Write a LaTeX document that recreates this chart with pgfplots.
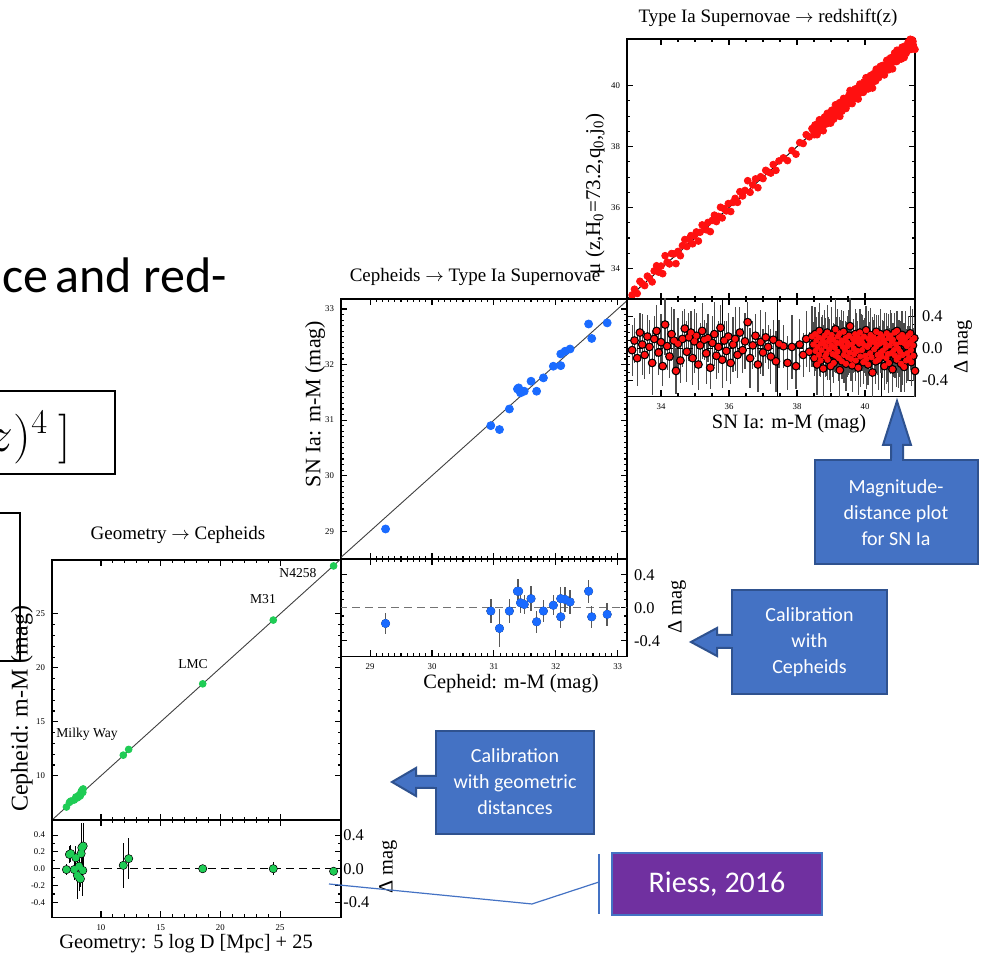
\documentclass[border=0pt]{standalone}
\usepackage{pgfplots}
\pgfplotsset{compat=1.18}
\usepackage{pgfplotstable}
\usepackage{fontspec}
\setmainfont{Liberation Serif}
\newfontfamily\slidefont{Carlito}

\definecolor{boxblue}{HTML}{4472C4}
\definecolor{boxedge}{HTML}{2F528F}
\definecolor{rpurple}{HTML}{7030A0}
\definecolor{snred}{HTML}{FF1010}
\definecolor{cepblue}{HTML}{1A6BFF}
\definecolor{geogreen}{HTML}{1FCC55}

% Geometric anchors: distance modulus x, Cepheid modulus y, residual r, error e
\pgfplotstableread{
x y r e
7.11 7.10 -0.01 0.07
7.36 7.53 0.17 0.10
7.47 7.65 0.18 0.10
7.76 7.75 -0.01 0.12
7.90 8.03 0.13 0.14
8.03 7.95 -0.08 0.28
8.17 8.20 0.03 0.20
8.20 8.09 -0.11 0.15
8.28 8.16 -0.12 0.10
8.34 8.52 0.18 0.25
8.40 8.65 0.25 0.30
8.51 8.78 0.27 0.28
8.48 8.46 -0.02 0.30
11.87 11.91 0.04 0.27
12.32 12.44 0.12 0.24
18.52 18.52 0.00 0.04
24.43 24.43 0.00 0.08
29.48 29.45 -0.03 0.04
}\geotab

% Cepheid hosts: Cepheid modulus x, SN Ia modulus y, residual r, error e
\pgfplotstableread{
x y r e
29.25 29.04 -0.19 0.13
30.95 30.90 -0.04 0.14
31.09 30.83 -0.25 0.23
31.25 31.20 -0.04 0.14
31.38 31.56 0.20 0.15
31.40 31.58 0.20 0.15
31.43 31.49 0.06 0.12
31.49 31.52 0.04 0.12
31.60 31.70 0.11 0.15
31.69 31.52 -0.17 0.13
31.80 31.76 -0.04 0.13
31.96 31.97 0.03 0.12
32.08 31.98 -0.11 0.14
32.08 32.19 0.11 0.14
32.15 32.24 0.10 0.15
32.23 32.28 0.07 0.14
32.53 32.73 0.20 0.14
32.58 32.47 -0.11 0.13
32.83 32.75 -0.08 0.14
}\cephtab

% Hubble-flow SN Ia: modulus x, residual r, error e
\pgfplotstableread[row sep=\\]{
x r e\\
33.15 -0.02 0.32\\ 33.22 0.10 0.28\\ 33.30 -0.12 0.35\\ 33.38 0.20 0.25\\ 33.45 0.05 0.38\\
33.52 -0.08 0.30\\ 33.60 0.15 0.27\\ 33.66 0.02 0.34\\ 33.74 -0.18 0.40\\ 33.80 0.12 0.29\\
33.87 0.22 0.32\\ 33.93 -0.05 0.28\\ 34.00 0.08 0.35\\ 34.05 -0.22 0.25\\ 34.12 0.30 0.38\\
34.18 0.03 0.30\\ 34.25 -0.10 0.27\\ 34.31 0.18 0.34\\ 34.38 0.10 0.40\\ 34.44 -0.28 0.29\\
34.50 0.06 0.32\\ 34.57 -0.15 0.28\\ 34.63 0.12 0.35\\ 34.70 0.25 0.25\\ 34.76 -0.04 0.38\\
34.82 0.14 0.30\\ 34.88 0.20 0.27\\ 34.93 -0.12 0.34\\ 34.98 0.09 0.40\\ 35.04 0.16 0.29\\
35.10 -0.20 0.32\\ 35.15 0.04 0.28\\ 35.21 0.22 0.35\\ 35.27 0.11 0.25\\ 35.33 -0.06 0.38\\
35.38 0.13 0.30\\ 35.45 -0.24 0.27\\ 35.51 0.07 0.34\\ 35.57 0.18 0.40\\ 35.63 -0.09 0.29\\
35.69 0.02 0.32\\ 35.75 0.26 0.28\\ 35.80 -0.14 0.35\\ 35.86 0.10 0.25\\ 35.92 -0.03 0.38\\
35.98 0.15 0.30\\ 36.05 -0.18 0.27\\ 36.12 0.05 0.34\\ 36.18 0.12 0.40\\ 36.25 -0.08 0.29\\
36.32 0.20 0.32\\ 36.40 -0.02 0.28\\ 36.47 0.09 0.35\\ 36.55 0.33 0.25\\ 36.62 -0.12 0.38\\
36.70 0.04 0.30\\ 36.78 0.16 0.27\\ 36.85 -0.20 0.34\\ 36.93 0.08 0.40\\ 37.00 -0.05 0.29\\
37.08 0.14 0.32\\ 37.15 0.02 0.28\\ 37.23 -0.10 0.35\\ 37.30 0.11 0.25\\ 37.38 -0.16 0.38\\
37.47 0.06 0.30\\ 37.60 0.03 0.27\\ 37.72 -0.18 0.34\\ 37.85 0.02 0.40\\ 37.97 -0.22 0.29\\
38.08 0.05 0.32\\ 38.18 -0.08 0.28\\ 38.27 0.12 0.35\\ 38.36 -0.04 0.25\\ 38.44 0.15 0.38\\
38.48 0.05 0.28\\ 38.51 -0.12 0.22\\ 38.53 0.18 0.34\\ 38.54 -0.03 0.25\\ 38.57 0.10 0.30\\
38.59 -0.20 0.38\\ 38.60 0.02 0.22\\ 38.63 0.14 0.32\\ 38.65 -0.08 0.26\\ 38.66 0.22 0.35\\
38.69 -0.15 0.21\\ 38.71 0.06 0.34\\ 38.72 -0.02 0.25\\ 38.75 0.12 0.30\\ 38.77 -0.25 0.38\\
38.78 0.08 0.22\\ 38.81 0.16 0.32\\ 38.83 -0.10 0.26\\ 38.84 0.03 0.35\\ 38.87 -0.06 0.28\\
38.89 0.20 0.34\\ 38.90 -0.14 0.25\\ 38.93 0.09 0.30\\ 38.95 -0.01 0.38\\ 38.96 0.13 0.22\\
38.99 -0.22 0.32\\ 39.01 0.04 0.26\\ 39.02 0.17 0.35\\ 39.05 -0.07 0.28\\ 39.07 0.11 0.21\\
39.08 -0.18 0.25\\ 39.11 0.01 0.30\\ 39.13 0.24 0.38\\ 39.14 -0.09 0.22\\ 39.17 0.07 0.32\\
39.19 -0.04 0.26\\ 39.20 0.15 0.35\\ 39.23 -0.12 0.28\\ 39.25 0.19 0.21\\ 39.26 -0.27 0.34\\
39.29 0.06 0.30\\ 39.31 0.10 0.38\\ 39.32 -0.16 0.22\\ 39.35 0.02 0.32\\ 39.37 0.21 0.26\\
39.38 -0.08 0.35\\ 39.41 -0.02 0.28\\ 39.43 0.13 0.21\\ 39.44 -0.19 0.34\\ 39.47 0.08 0.25\\
39.49 0.03 0.38\\ 39.50 -0.11 0.22\\ 39.53 0.16 0.32\\ 39.55 -0.05 0.26\\ 39.56 0.28 0.35\\
39.59 -0.13 0.28\\ 39.61 0.05 0.21\\ 39.62 -0.21 0.34\\ 39.65 0.12 0.25\\ 39.67 0.00 0.30\\
39.68 -0.07 0.22\\ 39.71 0.18 0.32\\ 39.73 -0.15 0.26\\ 39.74 0.09 0.35\\ 39.77 -0.03 0.28\\
39.79 0.14 0.21\\ 39.80 -0.24 0.34\\ 39.83 0.06 0.25\\ 39.85 0.20 0.30\\ 39.86 -0.10 0.38\\
39.89 0.11 0.32\\ 39.91 -0.02 0.26\\ 39.92 0.07 0.35\\ 39.95 -0.17 0.28\\ 39.97 0.15 0.21\\
39.98 0.04 0.34\\ 40.01 -0.09 0.25\\ 40.03 0.23 0.30\\ 40.04 -0.13 0.38\\ 40.07 0.02 0.22\\
40.09 -0.20 0.26\\ 40.10 0.12 0.35\\ 40.13 0.05 0.28\\ 40.15 -0.06 0.21\\ 40.16 0.17 0.34\\
40.19 -0.11 0.25\\ 40.21 0.09 0.30\\ 40.22 -0.30 0.38\\ 40.25 0.14 0.22\\ 40.27 -0.01 0.32\\
40.28 0.08 0.35\\ 40.31 -0.16 0.28\\ 40.33 0.21 0.21\\ 40.34 0.03 0.34\\ 40.37 -0.08 0.25\\
40.39 0.12 0.30\\ 40.40 -0.14 0.38\\ 40.43 0.06 0.22\\ 40.45 0.18 0.32\\ 40.46 -0.05 0.26\\
40.49 -0.10 0.28\\ 40.51 0.15 0.21\\ 40.52 -0.03 0.34\\ 40.55 0.10 0.25\\ 40.57 -0.22 0.30\\
40.58 0.07 0.38\\ 40.61 0.01 0.22\\ 40.63 -0.12 0.32\\ 40.64 0.19 0.26\\ 40.67 -0.07 0.35\\
40.69 0.13 0.30\\ 40.70 -0.18 0.38\\ 40.73 0.04 0.22\\ 40.75 0.16 0.32\\ 40.76 -0.06 0.26\\
40.79 0.09 0.35\\ 40.81 -0.26 0.28\\ 40.82 0.11 0.21\\ 40.85 -0.02 0.34\\ 40.87 0.20 0.25\\
40.88 -0.09 0.28\\ 40.91 0.05 0.21\\ 40.93 -0.14 0.34\\ 40.94 0.22 0.25\\ 40.97 0.00 0.30\\
40.99 -0.11 0.38\\ 41.00 0.14 0.22\\ 41.03 -0.04 0.32\\ 41.05 0.08 0.26\\ 41.06 -0.19 0.35\\
41.09 0.17 0.30\\ 41.11 -0.08 0.38\\ 41.12 0.10 0.22\\ 41.15 -0.23 0.32\\ 41.17 0.06 0.26\\
41.18 0.12 0.35\\ 41.21 -0.15 0.28\\ 41.23 0.03 0.21\\ 41.24 -0.06 0.34\\ 41.27 0.16 0.25\\
41.29 -0.12 0.28\\ 41.30 0.07 0.21\\ 41.33 0.19 0.34\\ 41.35 -0.02 0.25\\ 41.36 -0.17 0.30\\
41.39 0.11 0.38\\ 41.41 0.04 0.22\\ 41.42 -0.09 0.32\\ 41.45 0.13 0.26\\ 41.47 -0.28 0.35\\
}\sntab

% SN Ia with residuals beyond the plotted window (only their error bars show)
\pgfplotstableread{
x r e
35.80 0.70 0.70
37.42 0.80 1.50
40.48 -0.65 0.35
}\snout

\pgfplotsset{
  ladder/.style={
    scale only axis, anchor=south west,
    axis line style={line width=0.75pt},
    tick align=inside,
    major tick length=3pt, minor tick length=1.6pt,
    tick style={line width=0.55pt, black},
    tick label style={font=\fontsize{4.4}{5}\selectfont},
    /pgf/number format/assume math mode=true,
  },
  mainpanel/.style={ladder, height=130pt, xticklabels={}},
  respanel/.style={ladder, height=48.75pt,
    yticklabel style={/pgf/number format/fixed, /pgf/number format/fixed zerofill,
      /pgf/number format/precision=1}},
  % same frame as a residual panel, axis hidden: lets the markers sit above the bars
  resmarks/.style={scale only axis, anchor=south west, height=48.75pt, hide axis},
  bigright/.style={yticklabel pos=right,
    yticklabel style={font=\fontsize{8.2}{9}\selectfont}},
  diag/.style={draw=black!75, line width=0.45pt},
  ebar/.style 2 args={only marks, mark=none, error bars/.cd, y dir=both, y explicit,
    error mark=none, error bar style={line width=#1, #2}},
}

\newcommand\ttl{\fontsize{9.5}{11}\selectfont}
\newcommand\lbl{\fontsize{10.2}{12}\selectfont}
\newcommand\callout{\slidefont\fontsize{10}{13}\selectfont}
\newcommand\slidebig{\slidefont\fontsize{25}{30}\selectfont}

\begin{document}
\begin{tikzpicture}
\useasboundingbox (0,0) rectangle (491pt,478.5pt);
\fill[white] (0,0) rectangle (491pt,478.5pt);
\clip (0,0) rectangle (491pt,478.5pt);

% ---------- Geometry -> Cepheids ----------
\begin{axis}[mainpanel, width=144.5pt, at={(26pt,68.5pt)},
  xmin=5.9, xmax=30.1, ymin=5.9, ymax=30.0,
  xtick={10,15,20,25}, ytick={10,15,20,25}, minor tick num=4]
  \addplot[diag] coordinates {(5.9,5.9) (30.1,30.1)};
  \addplot[only marks, mark=*, mark size=1.7pt, color=geogreen] table[x=x, y=y] {\geotab};
\end{axis}
\begin{axis}[respanel, width=144.5pt, at={(26pt,19.75pt)},
  xmin=5.9, xmax=30.1, ymin=-0.58, ymax=0.58,
  xtick={10,15,20,25}, minor x tick num=4,
  ytick={-0.4,-0.2,0,0.2,0.4}, minor y tick num=1]
  \addplot[black, line width=0.5pt, dash pattern=on 4pt off 2.5pt] coordinates {(5.9,0) (30.1,0)};
  \addplot[ebar={0.5pt}{black}] table[x=x, y=r, y error=e] {\geotab};
\end{axis}
\begin{axis}[resmarks, width=144.5pt, at={(26pt,19.75pt)},
  xmin=5.9, xmax=30.1, ymin=-0.58, ymax=0.58]
  \addplot[only marks, mark=*, mark size=1.65pt, color=geogreen] table[x=x, y=r] {\geotab};
\end{axis}

% ---------- Cepheids -> SN Ia ----------
\begin{axis}[mainpanel, width=143pt, at={(170.5pt,199pt)},
  xmin=28.53, xmax=33.15, ymin=28.5, ymax=33.18,
  xtick={29,30,31,32,33}, ytick={29,30,31,32,33}, minor tick num=9]
  \addplot[diag] coordinates {(28.5,28.5) (33.2,33.2)};
  \addplot[only marks, mark=*, mark size=2pt, color=cepblue] table[x=x, y=y] {\cephtab};
\end{axis}
\begin{axis}[respanel, bigright, width=143pt, at={(170.5pt,150.25pt)},
  xmin=28.53, xmax=33.15, ymin=-0.59, ymax=0.59,
  xtick={29,30,31,32,33}, minor x tick num=9,
  ytick={-0.4,0,0.4}, minor y tick num=3]
  \addplot[black!55, line width=0.6pt, dash pattern=on 4pt off 2.5pt] coordinates {(28.5,0) (33.2,0)};
  \addplot[ebar={0.7pt}{black!65}] table[x=x, y=r, y error=e] {\cephtab};
\end{axis}
\begin{axis}[resmarks, width=143pt, at={(170.5pt,150.25pt)},
  xmin=28.53, xmax=33.15, ymin=-0.59, ymax=0.59]
  \addplot[only marks, mark=*, mark size=2pt, color=cepblue] table[x=x, y=r] {\cephtab};
\end{axis}

% ---------- SN Ia -> redshift ----------
\begin{axis}[mainpanel, width=144pt, at={(313.5pt,329pt)},
  xmin=33.0, xmax=41.47, ymin=33.0, ymax=41.53,
  xtick={34,36,38,40}, ytick={34,36,38,40}, minor tick num=3]
  \addplot[only marks, mark=*, mark size=1.7pt, color=snred] table[x=x, y expr=\thisrow{x}+\thisrow{r}] {\sntab};
  \addplot[draw=black, line width=0.45pt] coordinates {(33,33) (41.6,41.6)};
\end{axis}
\begin{axis}[respanel, bigright, width=144pt, at={(313.5pt,280.25pt)},
  xmin=33.0, xmax=41.47, ymin=-0.6, ymax=0.62,
  xtick={34,36,38,40}, minor x tick num=3,
  ytick={-0.4,0,0.4}, minor y tick num=3]
  \addplot[ebar={0.6pt}{black!70}] table[x=x, y=r, y error=e] {\sntab};
  \addplot[ebar={0.6pt}{black}] table[x=x, y=r, y error=e] {\snout};
  \addplot[black, line width=0.5pt, dash pattern=on 3pt off 2pt] coordinates {(33,0) (41.6,0)};
\end{axis}
\begin{axis}[resmarks, width=144pt, at={(313.5pt,280.25pt)},
  xmin=33.0, xmax=41.47, ymin=-0.6, ymax=0.62]
  \addplot[only marks, mark=*, mark size=1.35pt, color=snred] table[x=x, y=r] {\sntab};
\end{axis}

% ---------- slide text, labels and callouts (pixel grid, y downwards) ----------
\begin{scope}[yshift=478.5pt, x=0.5pt, y=-0.5pt]
  % fragments of the slide text behind the figure
  \node[anchor=base west, inner sep=0pt, font=\slidebig] at (2,293) {ce};
  \node[anchor=base west, inner sep=0pt, font=\slidebig] at (55,293) {and};
  \node[anchor=base west, inner sep=0pt, font=\slidebig] at (143,293) {red-};
  \draw[line width=1pt] (-10,391) rectangle (115,474);
  \node[anchor=base east, inner sep=0pt, font=\fontsize{24}{28}\selectfont] at (71,452) {$z)^{4}\kern5pt]$};
  \draw[line width=1pt] (-10,513) rectangle (20,661);

  % panel titles
  \node[font=\ttl] at (768,18) {Type Ia Supernovae $\rightarrow$ redshift(z)};
  \node[font=\ttl] at (475,277) {Cepheids $\rightarrow$ Type Ia Supernovae};
  \node[font=\ttl] at (178,535) {Geometry $\rightarrow$ Cepheids};

  % axis labels
  \node[font=\lbl] at (789,424) {SN Ia: m-M (mag)};
  \node[font=\lbl] at (511,684) {Cepheid: m-M (mag)};
  \node[font=\lbl] at (186,944) {Geometry: 5 log D [Mpc] + 25};
  \node[font=\fontsize{10.5}{12}\selectfont, rotate=90] at (595,194)
    {μ (z,H\textsubscript{0}=73.2,q\textsubscript{0},j\textsubscript{0})};
  \node[font=\fontsize{11}{12}\selectfont, rotate=90] at (315,404) {SN Ia: m-M (mag)};
  \node[font=\fontsize{12}{14}\selectfont, rotate=90] at (22,709) {Cepheid: m-M (mag)};
  \node[font=\lbl, rotate=90] at (963,347) {Δ mag};
  \node[font=\lbl, rotate=90] at (677,607) {Δ mag};
  \node[font=\lbl, rotate=90] at (388,867) {Δ mag};
  \node[font=\fontsize{8.2}{9}\selectfont, anchor=west, inner sep=0pt] at (343,835) {0.4};
  \node[font=\fontsize{8.2}{9}\selectfont, anchor=west, inner sep=0pt] at (343,869) {0.0};
  \node[font=\fontsize{8.2}{9}\selectfont, anchor=west, inner sep=0pt] at (343,902) {-0.4};

  % anchor galaxies
  \node[font=\fontsize{6.8}{8}\selectfont, anchor=west, inner sep=0pt] at (56,734) {Milky Way};
  \node[font=\fontsize{6.8}{8}\selectfont] at (193,664) {LMC};
  \node[font=\fontsize{6.8}{8}\selectfont] at (263,599) {M31};
  \node[font=\fontsize{6.8}{8}\selectfont] at (298,573) {N4258};

  % callout: magnitude-distance plot
  \filldraw[boxedge, fill=boxblue, line width=1pt, line join=miter]
    (891,461) -- (891,445) -- (883,445) -- (897,401) -- (911,445) -- (903,445) -- (903,461) -- cycle;
  \filldraw[boxedge, fill=boxblue, line width=1pt] (815,460) rectangle (978,564);
  \fill[boxblue] (892,458) rectangle (902,462);
  \node[text=white, align=center, font=\callout] at (896,513) {Magnitude-\\distance plot\\for SN Ia};

  % callout: Cepheid calibration
  \filldraw[boxedge, fill=boxblue, line width=1pt, line join=miter]
    (733,635) -- (717,635) -- (717,628) -- (691,642) -- (717,656) -- (717,648) -- (733,648) -- cycle;
  \filldraw[boxedge, fill=boxblue, line width=1pt] (732,590) rectangle (887,694);
  \fill[boxblue] (730,636) rectangle (734,647);
  \node[text=white, align=center, font=\callout] at (809.5,642) {Calibration\\with\\Cepheids};

  % callout: geometric calibration
  \filldraw[boxedge, fill=boxblue, line width=1pt, line join=miter]
    (437,776) -- (416,776) -- (416,768) -- (392,782) -- (416,796) -- (416,788) -- (437,788) -- cycle;
  \filldraw[boxedge, fill=boxblue, line width=1pt] (436,731) rectangle (594,834);
  \fill[boxblue] (434,777) rectangle (438,787);
  \node[text=white, align=center, font=\callout] at (515,782) {Calibration\\with geometric\\distances};

  % reference tag
  \draw[boxblue, line width=0.6pt] (599,854) -- (599,914);
  \draw[boxblue, line width=0.6pt] (329,884) -- (532,904) -- (599,882);
  \filldraw[draw=boxblue, fill=rpurple, line width=0.6pt] (612,853) rectangle (822,915);
  \node[text=white, font=\slidefont\fontsize{15}{18}\selectfont] at (717,884) {Riess, 2016};
\end{scope}
\end{tikzpicture}
\end{document}
